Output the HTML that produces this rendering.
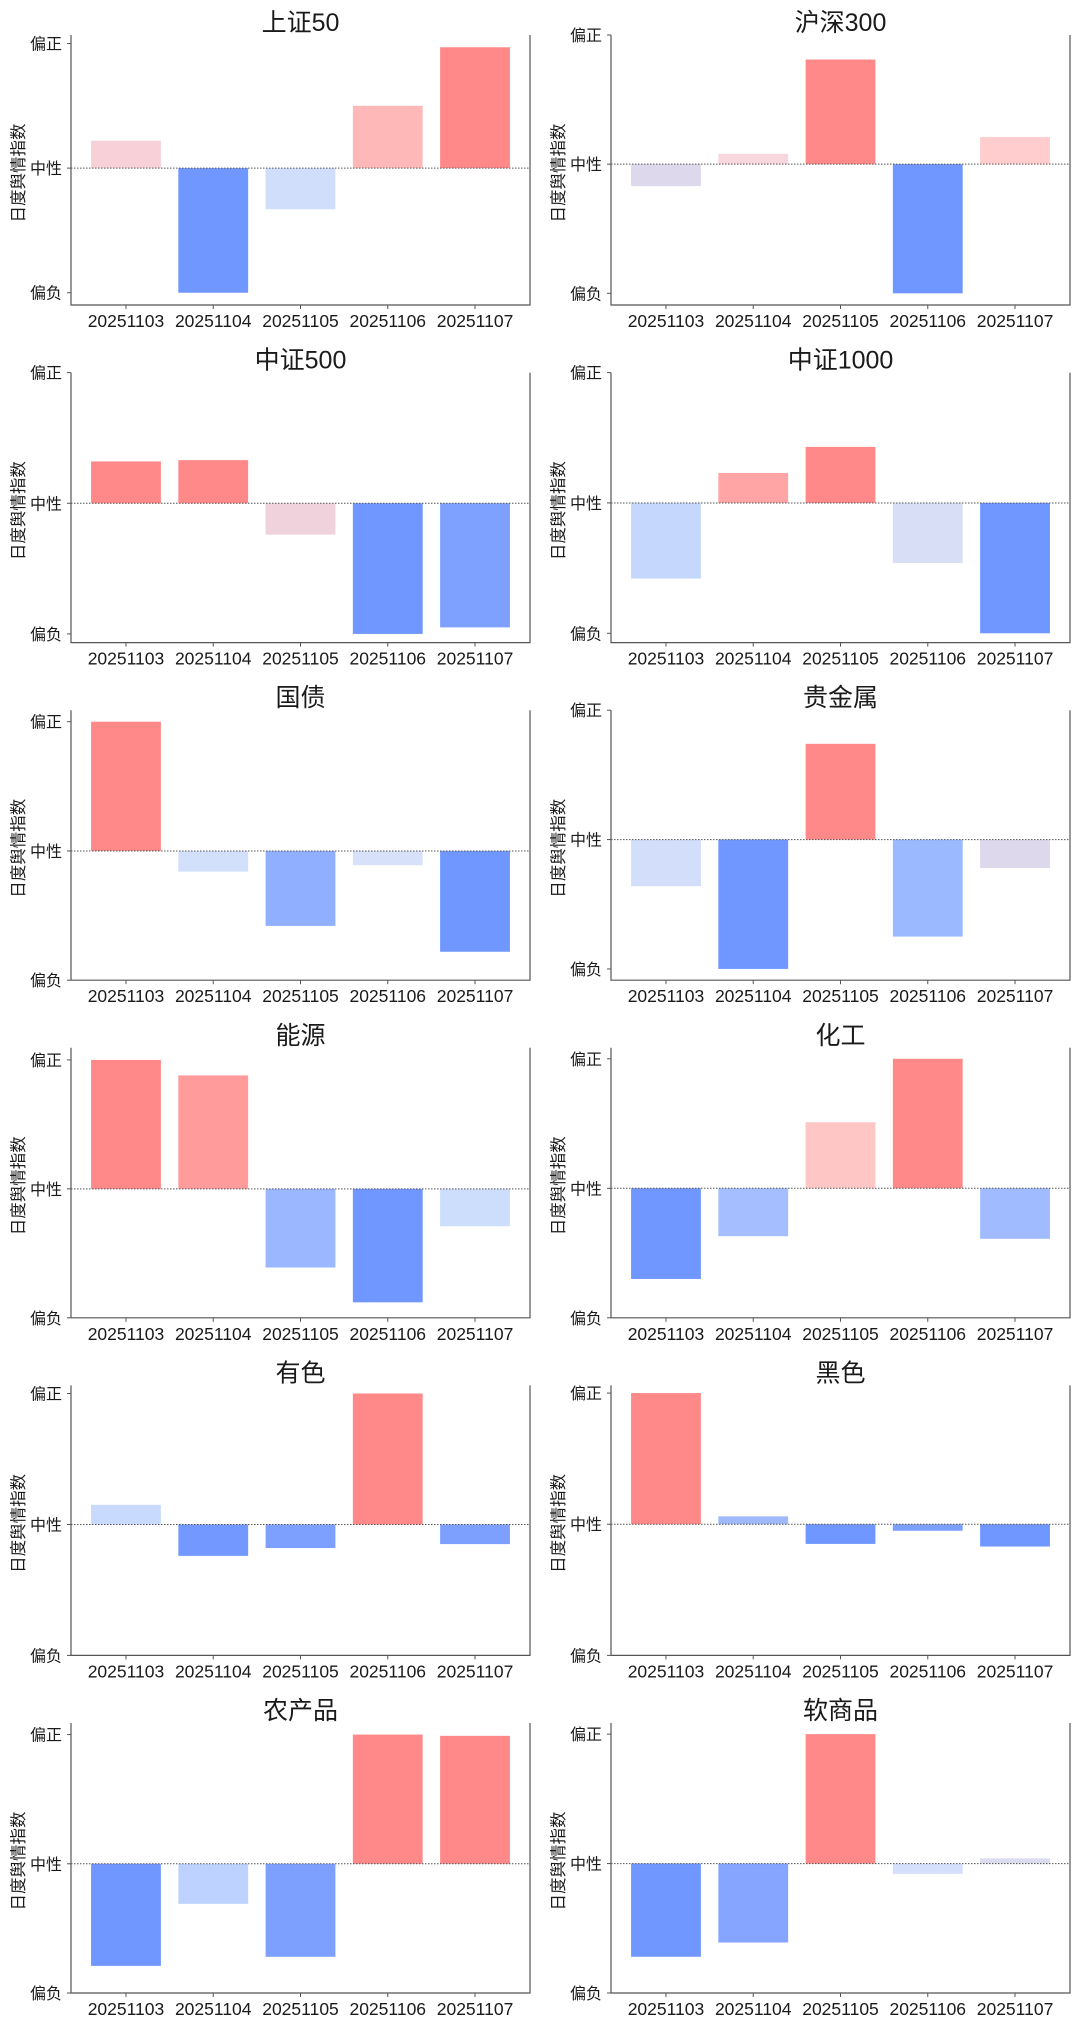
<!DOCTYPE html>
<html><head><meta charset="utf-8">
<style>
html,body{margin:0;padding:0;background:#fff;}
svg{display:block;}
text{font-family:"Liberation Sans","Noto Sans CJK SC",sans-serif;fill:#1a1a1a;}
</style></head>
<body>
<svg id="chart" width="1080" height="2025" viewBox="0 0 1080 2025" xmlns="http://www.w3.org/2000/svg"></svg>
<script>
const categories = ["20251103","20251104","20251105","20251106","20251107"];
const panelTitles = ["上证50","沪深300","中证500","中证1000","国债","贵金属","能源","化工","有色","黑色","农产品","软商品"];
const tickLabels = ["偏负","中性","偏正"];
const tickValues = [-1,0,1];
const yAxisTitle = "日度舆情指数";
const valsSZ50 = [0.22,-1,-0.33,0.5,0.97];
const valsHS300 = [-0.17,0.08,0.81,-1,0.21];
const valsZZ500 = [0.32,0.33,-0.24,-1,-0.95];
const valsZZ1000 = [-0.58,0.23,0.43,-0.46,-1];
const valsGZ = [1,-0.16,-0.58,-0.11,-0.78];
const valsGJS = [-0.36,-1,0.74,-0.75,-0.22];
const valsNY = [1,0.88,-0.61,-0.88,-0.29];
const valsHG = [-0.7,-0.37,0.51,1,-0.39];
const valsYS = [0.15,-0.24,-0.18,1,-0.15];
const valsHeiSe = [1,0.06,-0.15,-0.05,-0.17];
const valsNCP = [-0.79,-0.31,-0.72,1,0.99];
const valsRSP = [-0.72,-0.61,1,-0.08,0.04];
const panelValues = [valsSZ50,valsHS300,valsZZ500,valsZZ1000,valsGZ,valsGJS,valsNY,valsHG,valsYS,valsHeiSe,valsNCP,valsRSP];
const colorsSZ50 = ["#f7d0d8","#7096ff","#d0defc","#ffb8b8","#ff8888"];
const colorsHS300 = ["#ded8ec","#f7d6de","#ff8888","#7096ff","#ffcdcd"];
const colorsZZ500 = ["#ff8888","#ff8888","#f0d2dc","#7096ff","#7ea0ff"];
const colorsZZ1000 = ["#c5d7fd","#ffa5a5","#ff8888","#d7def5","#7096ff"];
const colorsGZ = ["#ff8888","#d2e0fc","#91afff","#d7e1fa","#7096ff"];
const colorsGJS = ["#d2defa","#7096ff","#ff8888","#9bb9ff","#ded8ec"];
const colorsNY = ["#ff8888","#ff9b9b","#9bb7ff","#7096ff","#cddefd"];
const colorsHG = ["#7096ff","#a5beff","#ffc6c6","#ff8888","#a0bbff"];
const colorsYS = ["#c8dafd","#7398ff","#7da0ff","#ff8888","#7da0ff"];
const colorsHeiSe = ["#ff8888","#a0b9fa","#7096ff","#7da0ff","#7096ff"];
const colorsNCP = ["#7096ff","#bed2ff","#7da0ff","#ff8888","#ff8888"];
const colorsRSP = ["#7096ff","#85a5ff","#ff8888","#d5e0fc","#dcdcf0"];
const panelColors = [colorsSZ50,colorsHS300,colorsZZ500,colorsZZ1000,colorsGZ,colorsGJS,colorsNY,colorsHG,colorsYS,colorsHeiSe,colorsNCP,colorsRSP];

const NS = "http://www.w3.org/2000/svg";
const svg = document.getElementById("chart");
function mk(tag, attrs, parent){const e=document.createElementNS(NS,tag);for(const k in attrs)e.setAttribute(k,attrs[k]);(parent||svg).appendChild(e);return e;}

const colX = [71, 611], axW = 459, axH = 270, rowTop0 = 35, rowPitch = 337.6;
const n = categories.length;
const xMin = -0.63, xMax = n - 1 + 0.63;

panelValues.forEach((vals, p) => {
  const col = p % 2, row = Math.floor(p / 2);
  const L = colX[col], T = rowTop0 + row * rowPitch, R = L + axW, B = T + axH;
  const g = mk("g", {});
  
  
  const lo = Math.min(0, ...vals), hi = Math.max(0, ...vals), r = hi - lo;
  const yLo = Math.min(lo - 0.05*r, -1), yHi = Math.max(hi + 0.05*r, 1);
  const xs = i => L + (i - xMin) / (xMax - xMin) * axW;
  const ys = v => B - (v - yLo) / (yHi - yLo) * axH;
  const unit = axW / (xMax - xMin);
  vals.forEach((v, i) => {
    const y0 = ys(0), y1 = ys(v);
    const b = mk("rect", {x: xs(i) - 0.4*unit, y: Math.min(y0,y1), width: 0.8*unit, height: Math.abs(y1-y0), fill: panelColors[p][i]}, g);
    
    
  });
  const zl = mk("line", {x1: L, x2: R, y1: ys(0), y2: ys(0), stroke: "#555", "stroke-width": 1, "stroke-dasharray": "1.5,1.5"}, g);
  
  
  const sp = mk("path", {d: `M${L},${T} L${L},${B} L${R},${B} L${R},${T}`, fill: "none", stroke: "#555", "stroke-width": 1.2}, g);
  
  
  tickValues.forEach((tv, k) => {
    const y = ys(tv);
    mk("line", {x1: L-4, x2: L, y1: y, y2: y, stroke: "#555", "stroke-width": 1}, g);
    const t = mk("text", {x: L-9, y: y+6, "text-anchor": "end", "font-size": 16}, g);
    t.textContent = tickLabels[k];
    
    
  });
  categories.forEach((c, i) => {
    const x = xs(i);
    mk("line", {x1: x, x2: x, y1: B, y2: B+4, stroke: "#555", "stroke-width": 1}, g);
    const t = mk("text", {x: x, y: B+22, "text-anchor": "middle", "font-size": 17.5}, g);
    t.textContent = c;
    
    
  });
  const cy = (T + B) / 2 + 3;
  const yx = L - 52;
  const yt = mk("text", {x: yx, y: cy, "text-anchor": "middle", "font-size": 16.5, transform: `rotate(-90 ${yx} ${cy})`, "dominant-baseline": "central"}, g);
  yt.textContent = yAxisTitle;
  
  
  const tt = mk("text", {x: (L+R)/2, y: T-4, "text-anchor": "middle", "font-size": 25}, g);
  tt.textContent = panelTitles[p];
  
  
});
</script>
</body></html>
